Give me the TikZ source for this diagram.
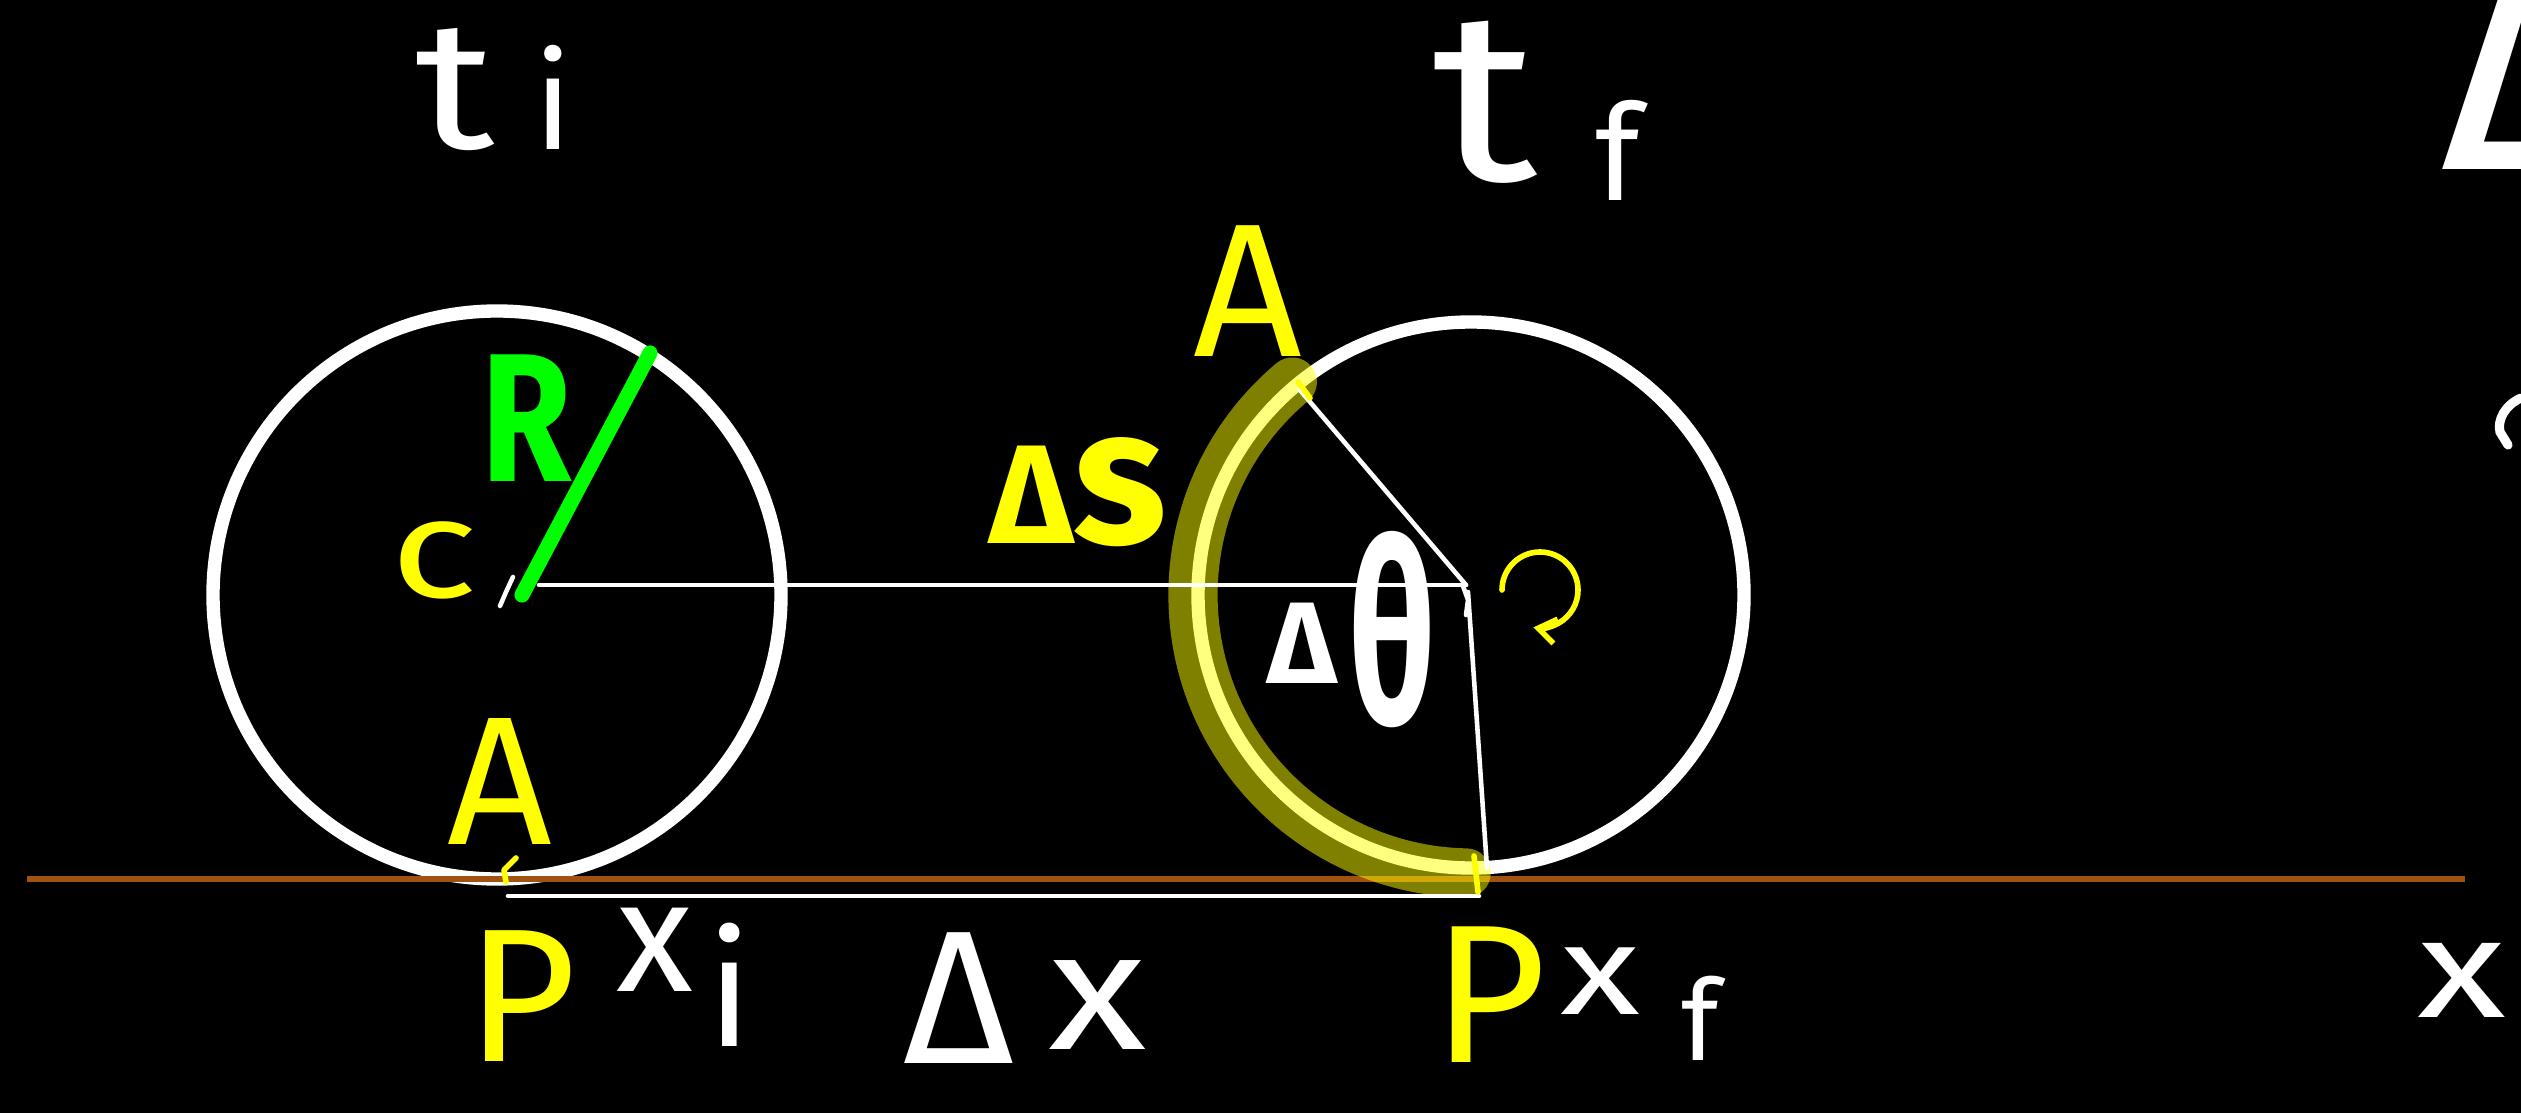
\documentclass[tikz,border=0pt]{standalone}
\usepackage{fontspec}
\setmainfont{Fira Sans}
\usetikzlibrary{arrows.meta}
\definecolor{brownline}{RGB}{160,82,15}
\definecolor{penyellow}{RGB}{255,255,0}
\definecolor{pengreen}{RGB}{0,255,0}
\newcommand{\myfs}[1]{\fontsize{#1}{#1}\selectfont}
\begin{document}
\begin{tikzpicture}[x=0.01cm,y=-0.01cm,
  lbl/.style={inner sep=0pt, outer sep=0pt, anchor=center},
  wtxt/.style={lbl, text=white},
  ytxt/.style={lbl, text=penyellow},
  gtxt/.style={lbl, text=pengreen},
  ring/.style={draw=white, line width=3.8pt},
  thinw/.style={draw=white, line width=1.3pt, line cap=round},
  ypen/.style={draw=penyellow, line width=1.6pt, line cap=round, line join=round},
  highlighter/.style={draw=penyellow, opacity=0.5, line width=14pt, line cap=round},
]
\fill[black] (0,0) rectangle (2521,1113);
\useasboundingbox (0,0) rectangle (2521,1113);
\clip (0,0) rectangle (2521,1113);

% geometry
\coordinate (c1) at (497,595);
\coordinate (c2) at (1471,595);
\coordinate (lstart) at (539,585);
\coordinate (rc) at (1466,585);
\coordinate (rc2) at (1468,592);
\coordinate (atop) at (1299,389);
\coordinate (abot) at (1487,868);
\coordinate (g1) at (27,879);
\coordinate (g2) at (2465,879);
\coordinate (dx1) at (508,896);
\coordinate (dx2) at (1479,896);
\coordinate (r1) at (522,595);
\coordinate (r2) at (650,353);
\coordinate (rot) at (1540,590);

% circles and ground
\draw[ring] (c1) circle[radius=284];
\draw[ring] (c2) circle[radius=273];
\draw[brownline, line width=1.8pt] (g1) -- (g2);

% highlighted arc
\draw[highlighter] ([shift={(-130:278)}]c2) arc[start angle=-130, end angle=-269, radius=278];

% white construction lines
\draw[thinw] (lstart) -- (rc);
\draw[thinw] (atop) -- (rc);
\draw[thinw] (rc2) -- (abot);
\draw[thinw] (dx1) -- (dx2);
\draw[thinw] (513,577) -- (506,592) -- (500,606);
\draw[thinw] (1463,586) -- (1468,600) -- (1466,615);

% yellow ticks
\draw[ypen] (516,858) -- (504,870) -- (506,882);
\draw[ypen] (1298,382) -- (1310,398);
\draw[ypen] (1474,856) -- (1478,892);

% green radius
\draw[pengreen, line width=4.3pt, line cap=round] (r1) -- (r2);

% rotation arrow
\draw[ypen, -{Straight Barb[length=5pt,width=7pt]}] ([shift={(-180:38)}]rot) arc[start angle=-180, end angle=100, radius=38];

% labels
\node[wtxt, xscale=1.2] (ti) at (455,90) {\myfs{52}t};
\node[wtxt] (tii) at (553,97) {\myfs{38}i};
\node[wtxt, xscale=1.2] (tf) at (1485,102) {\myfs{69}t};
\node[wtxt] (tff) at (1618,150) {\myfs{38}f};
\node[ytxt] (Atop) at (1248,291) {\myfs{54}A};
\node[ytxt] (Aleft) at (500,782) {\myfs{52}A};
\node[ytxt, xscale=1.3] (cc) at (434,560) {\myfs{40}c};
\node[gtxt, xscale=0.8] (R) at (527,418) {\myfs{52}\bfseries R};
\node[ytxt] (ds) at (1078,492) {\bfseries\myfs{40}Δ\myfs{55}s};
\node[wtxt] (dth) at (1302,643) {\bfseries\myfs{33}Δ};
\node[wtxt, xscale=0.6] (th) at (1392,630) {\bfseries\myfs{72}θ};
\node[ytxt] (Pl) at (522,996) {\myfs{54}P};
\node[wtxt] (xi) at (655,950) {\myfs{45}x};
\node[wtxt] (xii) at (730,985) {\myfs{45}i};
\node[wtxt] (dxD) at (959,998) {\myfs{54}Δ};
\node[wtxt, xscale=1.2] (dxx) at (1098,1005) {\myfs{48}x};
\node[ytxt] (Pr) at (1490,995) {\myfs{56}P};
\node[wtxt, xscale=1.3] (xf) at (1600,981) {\myfs{36}x};
\node[wtxt] (xff) at (1700,1018) {\myfs{32}f};
\node[wtxt, xscale=1.3] (xaxis) at (2462,980) {\myfs{40}x};
\node[wtxt, anchor=base west] (bigD) at (2440,170) {\myfs{100}Δ};
\draw[white, line width=2.6pt, line cap=round] (2521,398) .. controls (2505,405) and (2497,420) .. (2500,432) -- (2508,445);
\end{tikzpicture}
\end{document}
